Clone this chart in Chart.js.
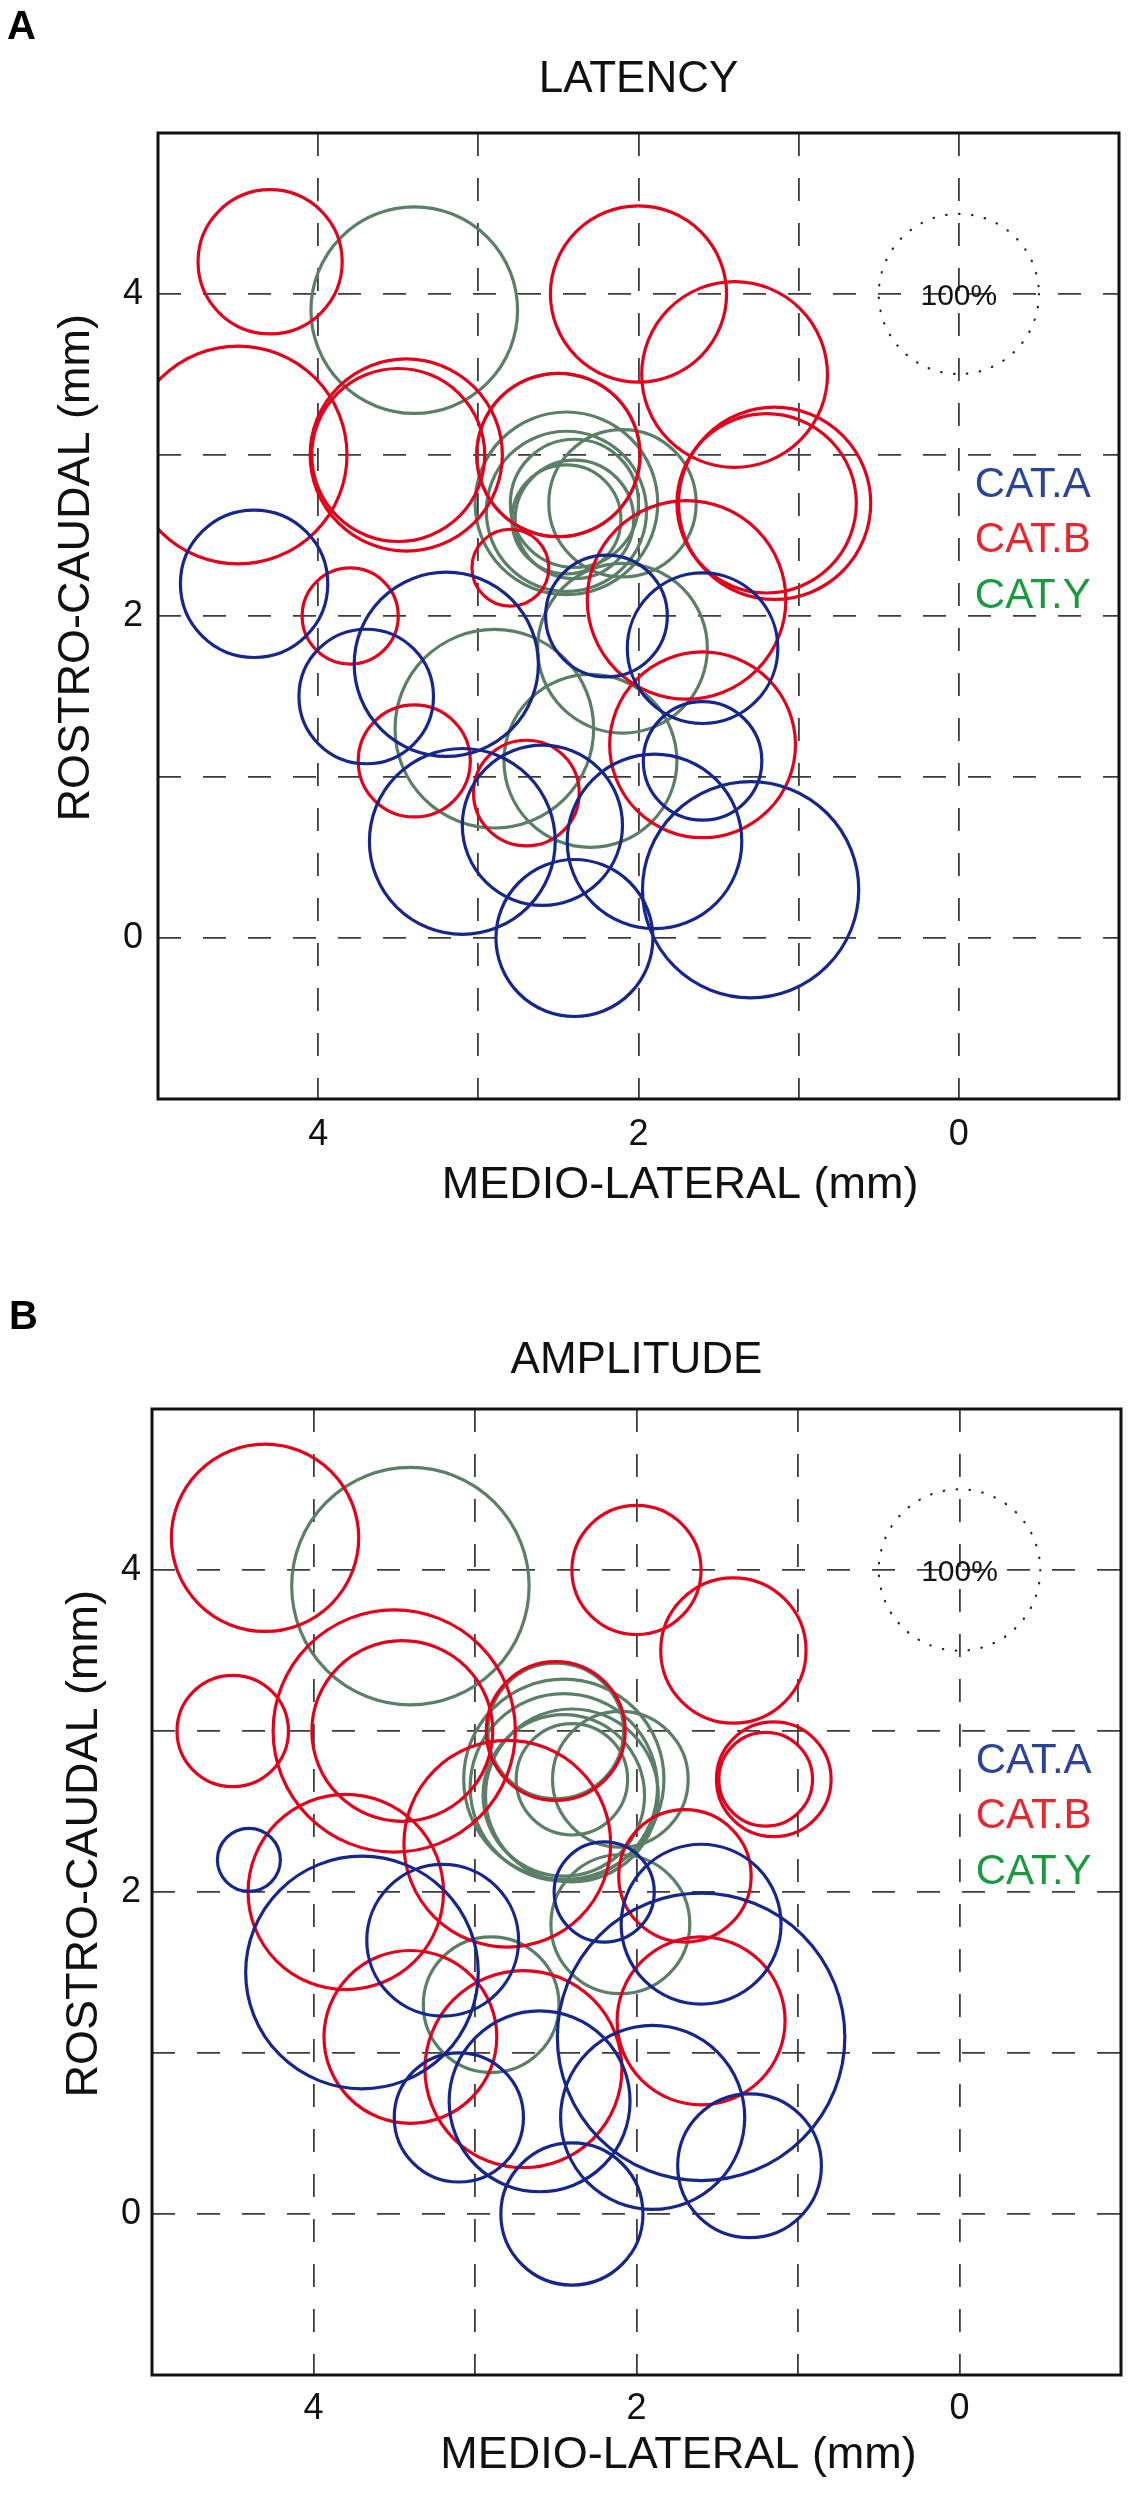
<!DOCTYPE html>
<html>
<head>
<meta charset="utf-8">
<title>Latency / amplitude maps</title>
<script src="https://cdn.jsdelivr.net/npm/chart.js@4.4.1/dist/chart.umd.min.js"></script>
<style>
  html, body { margin: 0; padding: 0; background: #fff; }
  .panel { position: absolute; left: 0; width: 1133px; }
  #panelA { top: 0; height: 1250px; }
  #panelB { top: 1250px; height: 1246px; }
</style>
</head>
<body>
<div class="panel" id="panelA"><canvas id="latencyChart"></canvas></div>
<div class="panel" id="panelB"><canvas id="amplitudeChart"></canvas></div>
<script>
// recording sites in mm (same sites on both maps), circle radius in mm
const catA_x = [4.4, 3.7, 3.2, 3.1, 2.6, 2.4, 1.9, 1.3, 1.6, 1.6, 2.2];
const catA_y = [2.2, 1.5, 1.7, 0.6, 0.7, 0.0, 0.6, 0.3, 1.1, 1.8, 2.0];
const catA_latency   = [0.46, 0.42, 0.575, 0.58, 0.50, 0.49, 0.545, 0.675, 0.37, 0.47, 0.38];
const catA_amplitude = [0.195, 0.72, 0.47, 0.40, 0.56, 0.44, 0.57, 0.445, 0.89, 0.495, 0.31];

const catB_x = [4.3, 4.5, 3.45, 3.5, 2.0, 1.4, 1.15, 1.2, 1.7, 1.6, 3.8, 2.8, 3.4, 2.7, 2.5];
const catB_y = [4.2, 3.0, 3.0, 3.0, 4.0, 3.5, 2.7, 2.7, 2.1, 1.2, 2.0, 2.3, 1.1, 0.9, 3.0];
const catB_latency   = [0.45, 0.68, 0.60, 0.54, 0.55, 0.58, 0.60, 0.56, 0.62, 0.58, 0.30, 0.24, 0.35, 0.33, 0.51];
const catB_amplitude = [0.58, 0.345, 0.56, 0.75, 0.40, 0.45, 0.355, 0.29, 0.41, 0.52, 0.605, 0.64, 0.535, 0.61, 0.43];

const catY_x = [3.4, 2.9, 2.3, 2.1, 2.5, 2.45, 2.45, 2.4, 2.4, 2.45, 2.1];
const catY_y = [3.9, 1.3, 1.1, 1.8, 3.0, 2.7, 2.65, 2.7, 2.6, 2.6, 2.7];
const catY_latency   = [0.645, 0.62, 0.54, 0.53, 0.51, 0.57, 0.50, 0.40, 0.37, 0.34, 0.46];
const catY_amplitude = [0.735, 0.42, null, 0.43, 0.42, 0.62, 0.58, 0.345, 0.535, 0.50, 0.42];

const categories = ["CAT.A", "CAT.B", "CAT.Y"];
const tickValues = [0, 2, 4];
const refCircle = [0, 4, 0.5];   // x, y, radius of the 100% scale circle
const refLabel = "100%";
const legendX = -0.1;
const legendY = [2.74, 2.395, 2.05];
const xTitleAt = 1.74;
const yTitleAt = 2.3;

const FONT = '"Liberation Sans", Arial, Helvetica, sans-serif';
const circleColors = ['#16268a', '#e3001b', '#5a7f66'];
const legendColors = ['#2b4499', '#e8262d', '#1a9a3e'];

Chart.defaults.font.family = FONT;
Chart.defaults.color = '#111';

function mmToPx(chart, mm) {
    const sc = chart.scales.x;
    if (!sc) return 0;
    return Math.abs(sc.getPixelForValue(mm) - sc.getPixelForValue(0));
}

function circleSet(i, xs, ys, sizes) {
    const data = [];
    for (let k = 0; k < xs.length; k++) {
        if (sizes[k] === null) continue;
        data.push({ x: xs[k], y: ys[k], size: sizes[k] });
    }
    const radius = ctx => ctx.raw ? mmToPx(ctx.chart, ctx.raw.size) : 0;
    return {
        label: categories[i],
        data: data,
        borderColor: circleColors[i],
        backgroundColor: 'rgba(0,0,0,0)',
        borderWidth: 3.2,
        pointRadius: radius,
        pointHoverRadius: radius,
        clip: 0,
    };
}

const mapDecor = {
    id: 'mapDecor',
    afterDraw(chart, args, o) {
        const { ctx, chartArea: a } = chart;
        const x = chart.scales.x, y = chart.scales.y;
        ctx.save();

        ctx.strokeStyle = '#111';
        ctx.lineWidth = 3;
        ctx.strokeRect(a.left, a.top, a.right - a.left, a.bottom - a.top);

        const cx = x.getPixelForValue(refCircle[0]);
        const cy = y.getPixelForValue(refCircle[1]);
        ctx.setLineDash([0.5, 12.5]);
        ctx.lineCap = 'round';
        ctx.lineWidth = 2.2;
        ctx.strokeStyle = '#222';
        ctx.beginPath();
        ctx.arc(cx, cy, mmToPx(chart, refCircle[2]), 0, Math.PI * 2);
        ctx.stroke();
        ctx.setLineDash([]);
        ctx.font = `30px ${FONT}`;
        ctx.fillStyle = '#111';
        ctx.textAlign = 'center';
        ctx.textBaseline = 'middle';
        ctx.fillText(refLabel, cx, cy + 3);

        ctx.font = `42px ${FONT}`;
        ctx.textAlign = 'left';
        ctx.textBaseline = 'alphabetic';
        chart.data.datasets.forEach((ds, i) => {
            ctx.fillStyle = legendColors[i];
            ctx.fillText(ds.label, x.getPixelForValue(legendX), y.getPixelForValue(legendY[i]));
        });

        ctx.font = `bold 40px ${FONT}`;
        ctx.fillStyle = '#000';
        ctx.fillText(o.letter, o.letterX, o.letterBaseline);

        ctx.font = `45px ${FONT}`;
        ctx.fillStyle = '#111';
        ctx.textAlign = 'center';
        ctx.textBaseline = 'middle';
        ctx.fillText('MEDIO-LATERAL (mm)', x.getPixelForValue(xTitleAt), a.bottom + o.xTitleGap);
        ctx.translate(a.left - o.yTitleGap, y.getPixelForValue(yTitleAt));
        ctx.rotate(-Math.PI / 2);
        ctx.fillText('ROSTRO-CAUDAL (mm)', 0, 0);

        ctx.restore();
    }
};

function makeMap(canvasId, p, sizesA, sizesB, sizesY) {
    const tickLabel = v => tickValues.includes(v) ? String(v) : '';
    return new Chart(document.getElementById(canvasId), {
        type: 'scatter',
        data: {
            datasets: [
                circleSet(0, catA_x, catA_y, sizesA),
                circleSet(1, catB_x, catB_y, sizesB),
                circleSet(2, catY_x, catY_y, sizesY),
            ]
        },
        options: {
            responsive: true,
            maintainAspectRatio: false,
            animation: false,
            events: [],
            layout: { padding: { left: 0, right: p.padRight, top: 0, bottom: 0 } },
            scales: {
                x: {
                    type: 'linear', min: -1, max: 5, reverse: true,
                    ticks: { stepSize: 1, autoSkip: false, maxRotation: 0, padding: p.xTickPad,
                             font: { size: 36 }, color: '#111', callback: tickLabel },
                    grid: { color: '#3c3c3c', lineWidth: 1.8, drawTicks: false },
                    border: { display: false, dash: [23, 22] },
                    afterFit: s => { s.height = p.xHeight; },
                },
                y: {
                    type: 'linear', min: -1, max: 5,
                    ticks: { stepSize: 1, autoSkip: false, padding: p.yTickPad,
                             font: { size: 36 }, color: '#111', callback: tickLabel },
                    grid: { color: '#3c3c3c', lineWidth: 1.8, drawTicks: false },
                    border: { display: false, dash: [23, 22] },
                    afterFit: s => { s.width = p.yWidth; },
                }
            },
            plugins: {
                legend: { display: false },
                tooltip: { enabled: false },
                title: {
                    display: true, text: p.title, fullSize: false, color: '#111',
                    font: { size: 44, weight: 'normal' },
                    padding: { top: p.titleTop, bottom: p.titleBottom },
                },
                mapDecor: p,
            }
        },
        plugins: [mapDecor]
    });
}

makeMap('latencyChart', {
    title: 'LATENCY', letter: 'A', letterX: 7, letterBaseline: 39,
    titleTop: 53.6, titleBottom: 26.6, yWidth: 158, xHeight: 151, padRight: 8,
    xTickPad: 14, yTickPad: 15, xTitleGap: 87, yTitleGap: 81,
}, catA_latency, catB_latency, catY_latency);

makeMap('amplitudeChart', {
    title: 'AMPLITUDE', letter: 'B', letterX: 9, letterBaseline: 79,
    titleTop: 84.6, titleBottom: 21.6, yWidth: 152, xHeight: 121, padRight: 9,
    xTickPad: 12, yTickPad: 11, xTitleGap: 81, yTitleGap: 67,
}, catA_amplitude, catB_amplitude, catY_amplitude);
</script>
</body>
</html>
